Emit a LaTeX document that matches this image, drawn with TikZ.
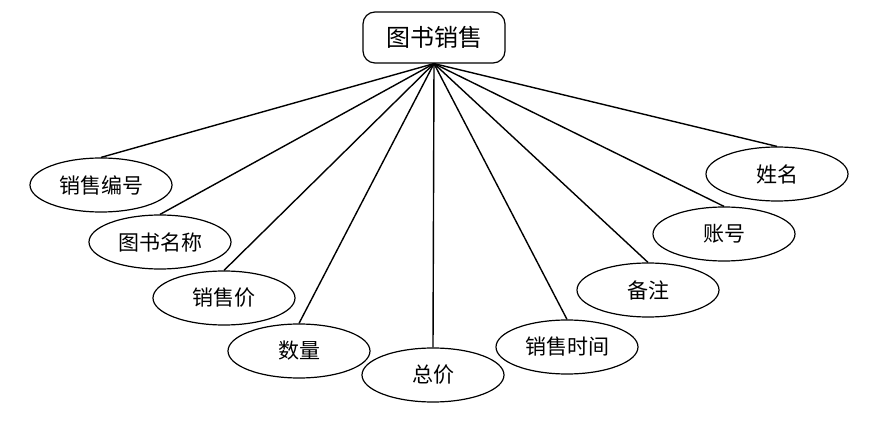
\documentclass[tikz,border=0pt]{standalone}
\usepackage{fontspec}
\newfontfamily\cjk{Noto Sans CJK SC}
\usetikzlibrary{shapes.geometric}
\begin{document}
\begin{tikzpicture}[x=1pt,y=-1pt,
  attr/.style={ellipse,draw,line width=1.2pt,minimum width=142pt,minimum height=54pt,inner sep=0pt,font=\cjk\fontsize{21}{24}\selectfont},
  entity/.style={rectangle,rounded corners=12pt,draw,line width=1.2pt,minimum width=142pt,minimum height=51pt,inner sep=0pt,font=\cjk\fontsize{24}{28}\selectfont},
  link/.style={line width=1.4pt}]
\useasboundingbox (0,0) rectangle (894,438);
\node[entity] (e) at (434,37.5) {图书销售};
\node[attr] (a1) at (101,185) {销售编号};
\node[attr] (a2) at (160,242) {图书名称};
\node[attr] (a3) at (224,298) {销售价};
\node[attr] (a4) at (299,351) {数量};
\node[attr] (a5) at (433,375) {总价};
\node[attr] (a6) at (567,347) {销售时间};
\node[attr] (a7) at (648,290) {备注};
\node[attr] (a8) at (724,234) {账号};
\node[attr] (a9) at (777,174) {姓名};
\foreach \n in {a1,a2,a3,a4,a5,a6,a7,a8,a9}
  \draw[link] (e.south) -- (\n.north);
\end{tikzpicture}
\end{document}
